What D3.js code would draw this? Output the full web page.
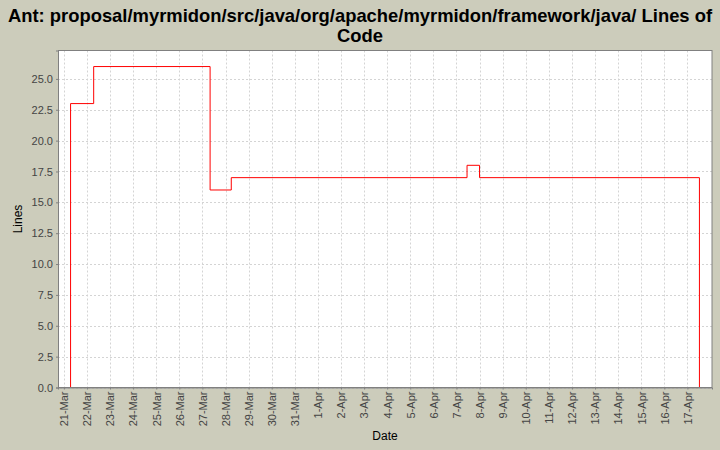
<!DOCTYPE html>
<html><head><meta charset="utf-8">
<script src="https://cdn.jsdelivr.net/npm/d3@7"></script>
<style>body{margin:0;background:#CCCCBB;} svg{display:block;}</style>
</head><body>
<svg id="c" width="720" height="450"></svg>
<script>
const titleLines = ["Ant: proposal/myrmidon/src/java/org/apache/myrmidon/framework/java/ Lines of", "Code"];
const dates = ["2003-03-21T07:00","2003-03-22T07:00","2003-03-27T08:00","2003-03-28T06:00","2003-04-07T11:00","2003-04-08T00:00","2003-04-17T12:30"];
const values = [23, 26, 16, 17, 18, 17, 0];
const yTicks = [0,2.5,5,7.5,10,12.5,15,17.5,20,22.5,25];
const xLabel = "Date", yLabel = "Lines";

const svg = d3.select("#c");
const W=720,H=450;
svg.append("rect").attr("width",W).attr("height",H).attr("fill","#CCCCBB");
const m={l:58,r:8,t:50.5,b:62.5};
const pw=W-m.l-m.r, ph=H-m.t-m.b;

const data = dates.map((d,i)=>({t:new Date(d+"Z"), v:values[i]}));
const ext = d3.extent(data,d=>d.t);
const span = ext[1]-ext[0];
const x = d3.scaleUtc().domain([new Date(+ext[0]-span*0.02), new Date(+ext[1]+span*0.02)]).range([m.l, m.l+pw]);
const y = d3.scaleLinear().domain([0, 26*1.05]).range([m.t+ph, m.t]);

// title
svg.append("g").selectAll("text").data(titleLines).join("text")
  .attr("x",W/2).attr("y",(d,i)=>21.5+i*20.5).attr("text-anchor","middle")
  .attr("font-family","Liberation Sans, Arial, sans-serif").attr("font-weight","bold").attr("font-size",18.4)
  .attr("fill","#000").text(d=>d);

// plot bg
svg.append("rect").attr("x",m.l).attr("y",m.t).attr("width",pw).attr("height",ph).attr("fill","#fff");

const xTicks = d3.utcDay.range(d3.utcDay.ceil(x.domain()[0]), x.domain()[1]).filter(d=>x(d) < m.l+pw-8);
const fmt = d3.utcFormat("%-d-%b");

// grid
const grid = svg.append("g").attr("stroke","#d4d4d4").attr("stroke-width",1).attr("stroke-dasharray","2,2");
grid.selectAll(".gx").data(xTicks).join("line")
  .attr("x1",d=>Math.round(x(d))+0.5).attr("x2",d=>Math.round(x(d))+0.5).attr("y1",m.t).attr("y2",m.t+ph);
grid.selectAll(".gy").data(yTicks).join("line")
  .attr("y1",d=>Math.round(y(d))+0.5).attr("y2",d=>Math.round(y(d))+0.5).attr("x1",m.l).attr("x2",m.l+pw);

// line
const line = d3.line().x(d=>x(d.t)).y(d=>y(d.v)).curve(d3.curveStepAfter);
svg.append("path").datum(data).attr("d",line).attr("fill","none").attr("stroke","#ff0000").attr("stroke-width",1);
svg.append("line").attr("x1",x(data[0].t)).attr("x2",x(data[0].t)).attr("y1",y(0)).attr("y2",y(data[0].v)).attr("stroke","#ff0000");

// outline
svg.append("rect").attr("x",m.l+0.5).attr("y",m.t).attr("width",pw-0.5).attr("height",ph).attr("fill","none").attr("stroke","#808080");

// axes
const font="Liberation Sans, Arial, sans-serif";
const xa = svg.append("g").attr("transform",`translate(0,${m.t+ph})`)
  .call(d3.axisBottom(x).tickValues(xTicks).tickFormat(fmt).tickSize(2).tickPadding(3));
xa.select(".domain").attr("stroke","#808080");
xa.selectAll(".tick line").attr("stroke","#808080");
xa.selectAll("text").attr("font-family",font).attr("font-size",11).attr("fill","#444")
  .attr("transform","rotate(-90)").attr("text-anchor","end").attr("x",-4).attr("y",0).attr("dy","0.35em");

const ya = svg.append("g").attr("transform",`translate(${m.l},0)`)
  .call(d3.axisLeft(y).tickValues(yTicks).tickFormat(d3.format(".1f")).tickSize(2).tickPadding(3));
ya.select(".domain").attr("stroke","#808080");
ya.selectAll(".tick line").attr("stroke","#808080");
ya.selectAll("text").attr("font-family",font).attr("font-size",11).attr("fill","#444");

svg.append("text").attr("x",m.l+pw/2).attr("y",440).attr("text-anchor","middle")
  .attr("font-family",font).attr("font-size",12).attr("fill","#000").text(xLabel);
svg.append("text").attr("transform",`translate(22,${m.t+ph/2}) rotate(-90)`).attr("text-anchor","middle")
  .attr("font-family",font).attr("font-size",12).attr("fill","#000").text(yLabel);
</script>
</body></html>
